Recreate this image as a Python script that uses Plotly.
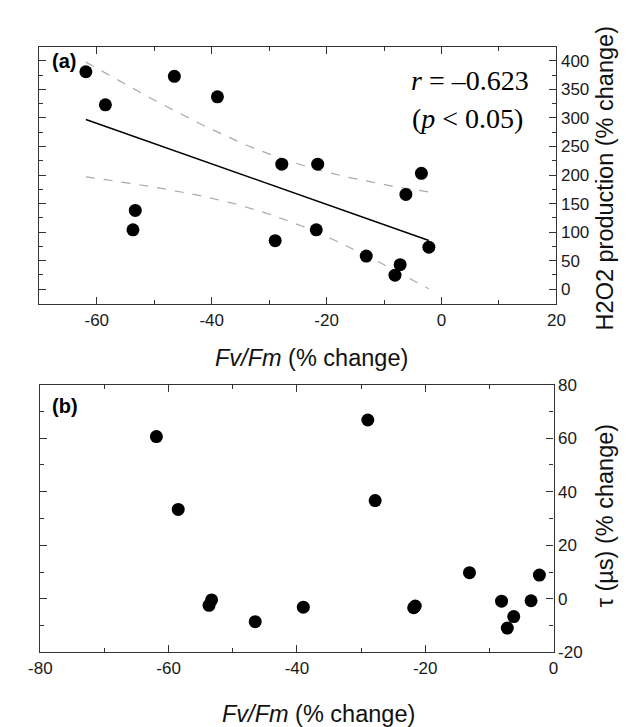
import numpy as np
import plotly.graph_objects as go

# Data
fvfm = [-61.9, -58.5, -53.3, -53.7, -46.5, -39.0, -28.95, -27.8,
        -21.55, -21.8, -13.1, -8.1, -7.2, -6.2, -3.5, -2.2]
h2o2 = [381, 323, 138, 104, 373, 337, 85, 219,
        219, 104, 58, 24.5, 43, 166, 203, 73.5]
tau = [60.6, 33.4, -0.4, -2.4, -8.5, -3.1, 66.8, 36.7,
       -2.7, -3.3, 9.8, -0.85, -10.9, -6.6, -0.7, 8.9]

xticks_a = [-60, -40, -20, 0, 20]
yticks_a = [0, 50, 100, 150, 200, 250, 300, 350, 400]
xticks_b = [-80, -60, -40, -20, 0]
yticks_b = [-20, 0, 20, 40, 60, 80]

r_text = "<i>r</i> = \u20130.623"
p_text = "(<i>p</i> < 0.05)"
t_crit = 2.145  # t(0.975, n-2 = 14)

W, H = 627, 727
def px(xp):
    return xp / W
def py(yp):
    return 1 - yp / H

x = np.array(fvfm)
y = np.array(h2o2)
n = len(x)
b1, b0 = np.polyfit(x, y, 1)
xg = np.linspace(x.min(), x.max(), 60)
yfit = b0 + b1 * xg
resid = y - (b0 + b1 * x)
s = np.sqrt(np.sum(resid ** 2) / (n - 2))
sxx = np.sum((x - x.mean()) ** 2)
se = s * np.sqrt(1 / n + (xg - x.mean()) ** 2 / sxx)
upper = yfit + t_crit * se
lower = yfit - t_crit * se

fig = go.Figure()
fig.add_trace(go.Scatter(x=xg, y=upper, mode="lines", line=dict(color="#aaaaaa", width=1.2, dash="dash"),
                         xaxis="x", yaxis="y", showlegend=False, hoverinfo="skip"))
fig.add_trace(go.Scatter(x=xg, y=lower, mode="lines", line=dict(color="#aaaaaa", width=1.2, dash="dash"),
                         xaxis="x", yaxis="y", showlegend=False, hoverinfo="skip"))
fig.add_trace(go.Scatter(x=xg, y=yfit, mode="lines", line=dict(color="black", width=1.5),
                         xaxis="x", yaxis="y", showlegend=False))
fig.add_trace(go.Scatter(x=fvfm, y=h2o2, mode="markers", marker=dict(color="black", size=13),
                         xaxis="x", yaxis="y", showlegend=False))
fig.add_trace(go.Scatter(x=fvfm, y=tau, mode="markers", marker=dict(color="black", size=13),
                         xaxis="x2", yaxis="y2", showlegend=False))

axcommon = dict(showgrid=False, zeroline=False, showline=True, linecolor="#333333", linewidth=1.3,
                ticks="inside", ticklen=7, tickwidth=1.3, tickcolor="#333333", mirror="ticks",
                tickfont=dict(family="Liberation Sans, Arial", size=17, color="#1a1a1a"))

def tv(vals):
    return dict(tickmode="array", tickvals=vals, ticktext=[str(v) for v in vals])

mn = lambda d: dict(dtick=d, ticks="inside", ticklen=4, tickwidth=1.2, tickcolor="#333333")

fig.update_layout(
    width=W, height=H, margin=dict(l=0, r=0, t=0, b=0),
    plot_bgcolor="white", paper_bgcolor="white",
    xaxis=dict(domain=[px(20), px(555)], range=[-70, 20], anchor="y", minor=mn(10),
               **tv(xticks_a), **axcommon),
    yaxis=dict(domain=[py(295), py(31)], range=[-26.5, 424], side="right", anchor="x", minor=mn(25),
               **tv(yticks_a), **axcommon),
    xaxis2=dict(domain=[px(21), px(552)], range=[-80, 0], anchor="y2", minor=mn(10),
                **tv(xticks_b), **axcommon),
    yaxis2=dict(domain=[py(652.5), py(377.5)], range=[-20, 80], side="right", anchor="x2", minor=mn(10),
                **tv(yticks_b), **axcommon),
)

tfont = dict(family="Liberation Sans, Arial", size=23.5, color="#111111")
ann = [
    dict(text="<b>(a)</b>", x=px(31), y=py(45), xanchor="left", yanchor="middle",
         font=dict(family="Liberation Sans, Arial", size=20, color="black")),
    dict(text="<b>(b)</b>", x=px(31), y=py(399), xanchor="left", yanchor="middle",
         font=dict(family="Liberation Sans, Arial", size=20, color="black")),
    dict(text=r_text, x=px(529), y=py(65), xanchor="right", yanchor="middle",
         font=dict(family="Liberation Serif, Times New Roman", size=28, color="black")),
    dict(text=p_text, x=px(523), y=py(104), xanchor="right", yanchor="middle",
         font=dict(family="Liberation Serif, Times New Roman", size=28, color="black")),
    dict(text="<i>Fv/Fm</i> (% change)", x=px(302), y=py(350), xanchor="center", yanchor="middle", font=tfont),
    dict(text="<i>Fv/Fm</i> (% change)", x=px(309), y=py(716), xanchor="center", yanchor="middle", font=tfont),
    dict(text="H2O2 production (% change)", x=px(605), y=py(166), xanchor="center", yanchor="middle",
         textangle=-90, font=tfont),
    dict(text="\u03c4 (\u00b5s) (% change)", x=px(605), y=py(512), xanchor="center", yanchor="middle",
         textangle=-90, font=tfont),
]
for a in ann:
    a.update(xref="paper", yref="paper", showarrow=False)
fig.update_layout(annotations=ann)

fig.write_html("out.html")
